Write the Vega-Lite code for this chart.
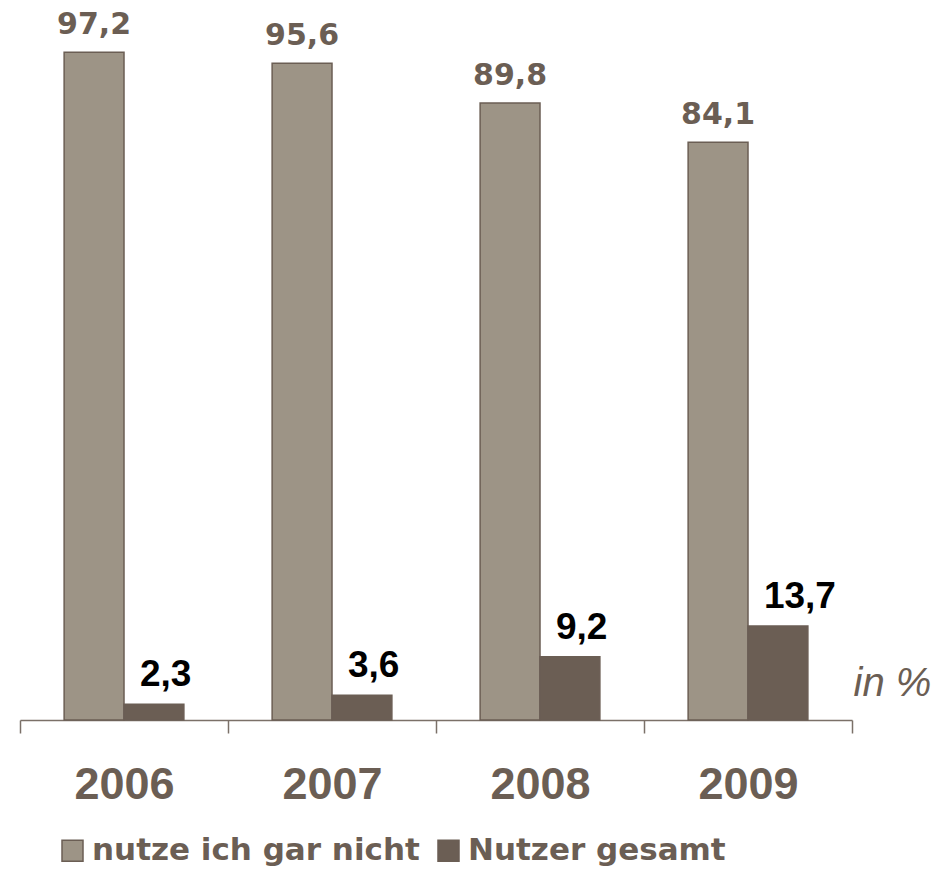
{
  "$schema": "https://vega.github.io/schema/vega-lite/v6.json",
  "width": 832,
  "height": 687,
  "autosize": {"type": "none"},
  "padding": {"left": 20, "top": 33, "right": 91, "bottom": 149},
  "background": "white",
  "config": {
    "view": {"stroke": null},
    "locale": {"number": {"decimal": ",", "thousands": ".", "grouping": [3], "currency": ["", " €"]}}
  },
  "data": {
    "values": [
      {"year": "2006", "series": "nutze ich gar nicht", "value": 97.2},
      {"year": "2006", "series": "Nutzer gesamt", "value": 2.3},
      {"year": "2007", "series": "nutze ich gar nicht", "value": 95.6},
      {"year": "2007", "series": "Nutzer gesamt", "value": 3.6},
      {"year": "2008", "series": "nutze ich gar nicht", "value": 89.8},
      {"year": "2008", "series": "Nutzer gesamt", "value": 9.2},
      {"year": "2009", "series": "nutze ich gar nicht", "value": 84.1},
      {"year": "2009", "series": "Nutzer gesamt", "value": 13.7}
    ]
  },
  "encoding": {
    "x": {
      "field": "year",
      "type": "nominal",
      "scale": {"paddingInner": 0, "paddingOuter": 0},
      "axis": {
        "title": null,
        "labelAngle": 0,
        "tickBand": "extent",
        "tickSize": 13,
        "tickWidth": 1.5,
        "tickColor": "#7b7068",
        "domainColor": "#7b7068",
        "domainWidth": 1.5,
        "labelFont": "Liberation Sans",
        "labelFontWeight": "bold",
        "labelFontSize": 45,
        "labelColor": "#6b5e54",
        "labelBaseline": "alphabetic",
        "labelPadding": 65,
        "grid": false
      }
    },
    "xOffset": {
      "field": "series",
      "type": "nominal",
      "scale": {"domain": ["nutze ich gar nicht", "Nutzer gesamt"], "paddingInner": 0, "paddingOuter": 0.737}
    },
    "y": {
      "field": "value",
      "type": "quantitative",
      "scale": {"domain": [0, 100], "nice": false},
      "axis": {
        "orient": "right",
        "domain": false,
        "ticks": false,
        "labels": false,
        "grid": false,
        "title": "in %",
        "titleAngle": 0,
        "titleAlign": "left",
        "titleBaseline": "alphabetic",
        "titleX": 1,
        "titleY": 662,
        "titleFont": "Liberation Sans",
        "titleFontStyle": "italic",
        "titleFontWeight": "normal",
        "titleFontSize": 40,
        "titleColor": "#6b5e54"
      }
    }
  },
  "layer": [
    {
      "mark": {"type": "bar", "stroke": "#6b5e54", "strokeWidth": 1.5},
      "encoding": {
        "color": {
          "field": "series",
          "type": "nominal",
          "scale": {"domain": ["nutze ich gar nicht", "Nutzer gesamt"], "range": ["#9d9486", "#6b5e54"]},
          "legend": {
            "title": null,
            "orient": "none",
            "direction": "horizontal",
            "legendX": 37,
            "legendY": 802,
            "padding": 0,
            "symbolType": "square",
            "symbolSize": 441,
            "symbolStrokeColor": "#6b5e54",
            "symbolStrokeWidth": 1.5,
            "labelFont": "DejaVu Sans",
            "labelFontWeight": "bold",
            "labelFontSize": 31,
            "labelColor": "#6b5e54",
            "labelOffset": 4,
            "columnPadding": 13,
            "labelLimit": 500
          }
        }
      }
    },
    {
      "transform": [{"filter": "datum.series === 'nutze ich gar nicht'"}],
      "mark": {"type": "text", "baseline": "alphabetic", "align": "center", "dy": -18, "font": "DejaVu Sans", "fontWeight": "bold", "fontSize": 30, "color": "#6b5e54"},
      "encoding": {"text": {"field": "value", "type": "quantitative", "format": ".1f"}}
    },
    {
      "transform": [{"filter": "datum.series === 'Nutzer gesamt'"}],
      "mark": {"type": "text", "baseline": "alphabetic", "align": "left", "dx": -14, "dy": -18, "font": "Liberation Sans", "fontWeight": "bold", "fontSize": 37, "color": "#000000"},
      "encoding": {"text": {"field": "value", "type": "quantitative", "format": ".1f"}}
    }
  ]
}
